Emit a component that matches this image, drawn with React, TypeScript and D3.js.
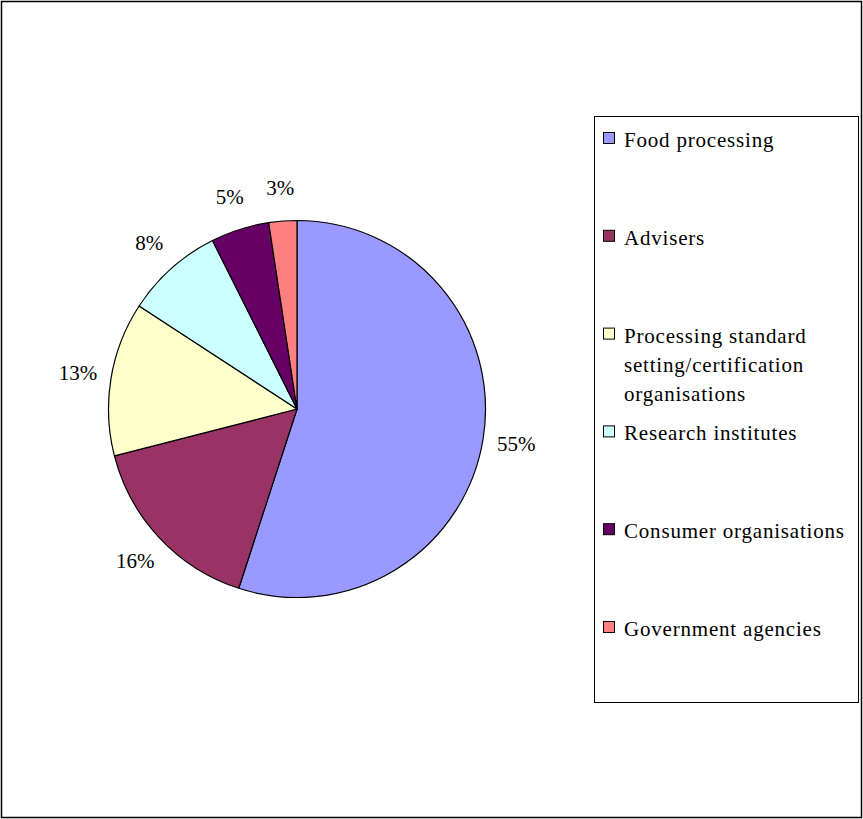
import React from "react";
import * as d3 from "d3";

const categories = [
  "Food processing",
  "Advisers",
  "Processing standard setting/certification organisations",
  "Research institutes",
  "Consumer organisations",
  "Government agencies",
];
const legendLines = [
  ["Food processing"],
  ["Advisers"],
  ["Processing standard", "setting/certification", "organisations"],
  ["Research institutes"],
  ["Consumer organisations"],
  ["Government agencies"],
];
const values = [55, 16, 13.2, 8.4, 5.0, 2.4];
const valueLabels = ["55%", "16%", "13%", "8%", "5%", "3%"];
const colors = ["#9999FF", "#993366", "#FFFFCC", "#CCFFFF", "#660066", "#FF8080"];

const W = 863;
const H = 819;
const cx = 297;
const cy = 409;
const r = 188.5;
const FONT = "'Liberation Serif', 'Times New Roman', serif";

export default function App() {
  const pie = d3.pie<number>().sort(null).value((d) => d)(values);
  const arc = d3.arc<d3.PieArcDatum<number>>().innerRadius(0).outerRadius(r);
  const labelArc = d3.arc<d3.PieArcDatum<number>>().innerRadius(222).outerRadius(222);

  const legendX = 594;
  const legendY = 116;
  const legendW = 264;
  const legendH = 586;
  const firstBaseline = 147;
  const step = 97.8;

  return (
    <div style={{ position: "absolute", left: 0, top: 0 }}>
      <svg width={W} height={H} style={{ display: "block", background: "#fff" }}>
        <rect x={1.5} y={1.5} width={W - 3} height={H - 3} fill="#fff" stroke="#000" strokeWidth={1.5} />
        <g transform={`translate(${cx},${cy})`}>
          {pie.map((p, i) => (
            <path key={i} d={arc(p) || ""} fill={colors[i]} stroke="#000" strokeWidth={1.2} strokeLinejoin="round" />
          ))}
          {pie.map((p, i) => {
            const [x, y] = labelArc.centroid(p);
            return (
              <text
                key={i}
                x={x}
                y={y}
                textAnchor="middle"
                dominantBaseline="central"
                fontFamily={FONT}
                fontSize={21}
                fill="#000"
              >
                {valueLabels[i]}
              </text>
            );
          })}
        </g>
        <rect x={legendX + 0.5} y={legendY + 0.5} width={legendW} height={legendH} fill="#fff" stroke="#000" strokeWidth={1} />
        {categories.map((cat, i) => {
          const base = firstBaseline + i * step;
          return (
            <g key={cat}>
              <rect x={603.5} y={base - 14.5} width={11} height={11} fill={colors[i]} stroke="#000" strokeWidth={1} />
              <text x={624} y={base} fontFamily={FONT} fontSize={21} fill="#000" letterSpacing={0.8}>
                {legendLines[i].map((ln, j) => (
                  <tspan key={j} x={624} dy={j === 0 ? 0 : 29}>
                    {ln}
                  </tspan>
                ))}
              </text>
            </g>
          );
        })}
      </svg>
    </div>
  );
}
